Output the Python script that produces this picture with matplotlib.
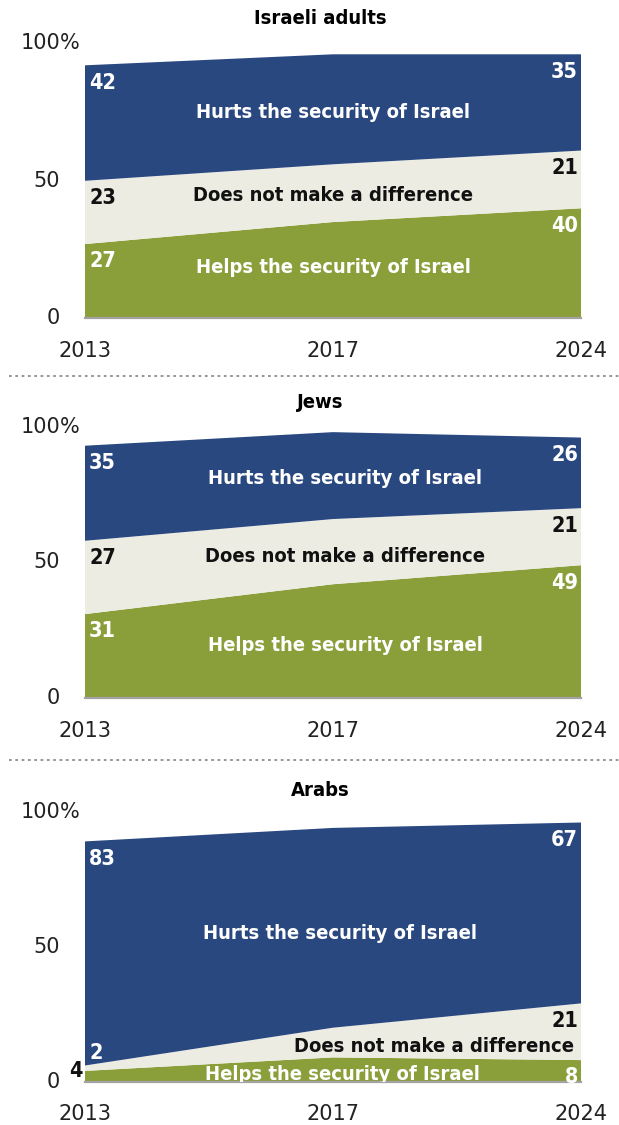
import matplotlib.pyplot as plt
from matplotlib.lines import Line2D

years = ["2013", "2017", "2024"]

titles = ["Israeli adults", "Jews", "Arabs"]

# share saying the settlements help / make no difference / hurt
helps = [[27, 35, 40], [31, 42, 49], [4, 9, 8]]
no_diff = [[23, 21, 21], [27, 24, 21], [2, 11, 21]]
hurts = [[42, 40, 35], [35, 32, 26], [83, 74, 67]]

series_names = ["Helps the security of Israel",
                "Does not make a difference",
                "Hurts the security of Israel"]

colors = ["#8a9e3a", "#ecece2", "#2a4880"]
text_colors = ["white", "#111111", "white"]

W, H = 619, 1125
# pixel rows of the 0 and 100 gridlines for each panel
y_zero = [318.3, 698.3, 1081.7]
y_hundred = [43.3, 426.7, 811.7]
title_y = [19, 403, 790]
x_left, x_right = 85, 581

# where the series names sit, in data coords (x, y, ha)
name_pos = [
    [(1.0, 18.3, "center"), (1.0, 44.8, "center"), (1.0, 74.7, "center")],
    [(1.05, 19.6, "center"), (1.05, 52.1, "center"), (1.05, 81.0, "center")],
    [(1.04, 2.5, "center"), (1.97, 13.0, "right"), (1.03, 55.0, "center")],
]

plt.rcParams["font.family"] = ["DejaVu Sans"]
cond = dict(family="DejaVu Sans", fontstretch="condensed", fontweight="bold")

fig = plt.figure(figsize=(W / 100, H / 100), dpi=100)

for i in range(3):
    bottom = 1 - y_zero[i] / H
    height = (y_zero[i] - y_hundred[i]) / H
    ax = fig.add_axes([x_left / W, bottom, (x_right - x_left) / W, height])
    x = [0, 1, 2]
    layers = [helps[i], no_diff[i], hurts[i]]
    ax.stackplot(x, *layers, colors=colors, linewidth=0)
    ax.set_xlim(0, 2)
    ax.set_ylim(0, 100)
    ax.axis("off")
    ax.axhline(0, color="#a3a3a3", lw=1.6, clip_on=False, zorder=5)

    # y tick labels, with the % hanging past the numbers
    ytr = ax.get_yaxis_transform()
    for v in [0, 50, 100]:
        ax.text(-0.05, v, str(v), transform=ytr, ha="right", va="center",
                fontsize=15, color="#222222")
    ax.text(-0.05, 100, "%", transform=ytr, ha="left", va="center",
            fontsize=15, color="#222222")

    # year labels
    for j, yr in enumerate(years):
        ax.annotate(yr, (j, 0), xytext=(0, -23.5), textcoords="offset points",
                    ha="center", va="center", fontsize=15, color="#222222",
                    annotation_clip=False)

    fig.text(320 / W, 1 - title_y[i] / H, titles[i], ha="center", va="center",
             fontsize=14.5, **cond)

    # value labels at both ends
    for k in range(3):
        for j, side in [(0, "left"), (2, "right")]:
            top = sum(layers[m][j] for m in range(k + 1))
            dx = 3 if side == "left" else -2.2
            dy = -12.5
            ha = side
            col = text_colors[k]
            if i == 2 and j == 0 and k == 0:
                dx, dy, ha = -1.5, 0, "right"
                col = "#111111"
            elif i == 2 and j == 0 and k == 1:
                dx, dy = 3.5, 9
                col = "white"
            ax.annotate(str(layers[k][j]), (j, top), xytext=(dx, dy),
                        textcoords="offset points", ha=ha, va="center",
                        fontsize=15.5, color=col, annotation_clip=False,
                        zorder=6, **cond)

    # series names inside the bands
    for k in range(3):
        px, py, ha = name_pos[i][k]
        ax.text(px, py, series_names[k], ha=ha, va="center", fontsize=14.5,
                color=text_colors[k], clip_on=True, zorder=6, **cond)

# dotted separators between panels
for ysep in [376, 759.5]:
    fig.add_artist(Line2D([0.015, 1.0], [1 - ysep / H, 1 - ysep / H],
                          transform=fig.transFigure, color="#8c8c8c",
                          lw=1.3, ls=(0, (1.5, 2))))

fig.savefig("out.png", dpi=100)
